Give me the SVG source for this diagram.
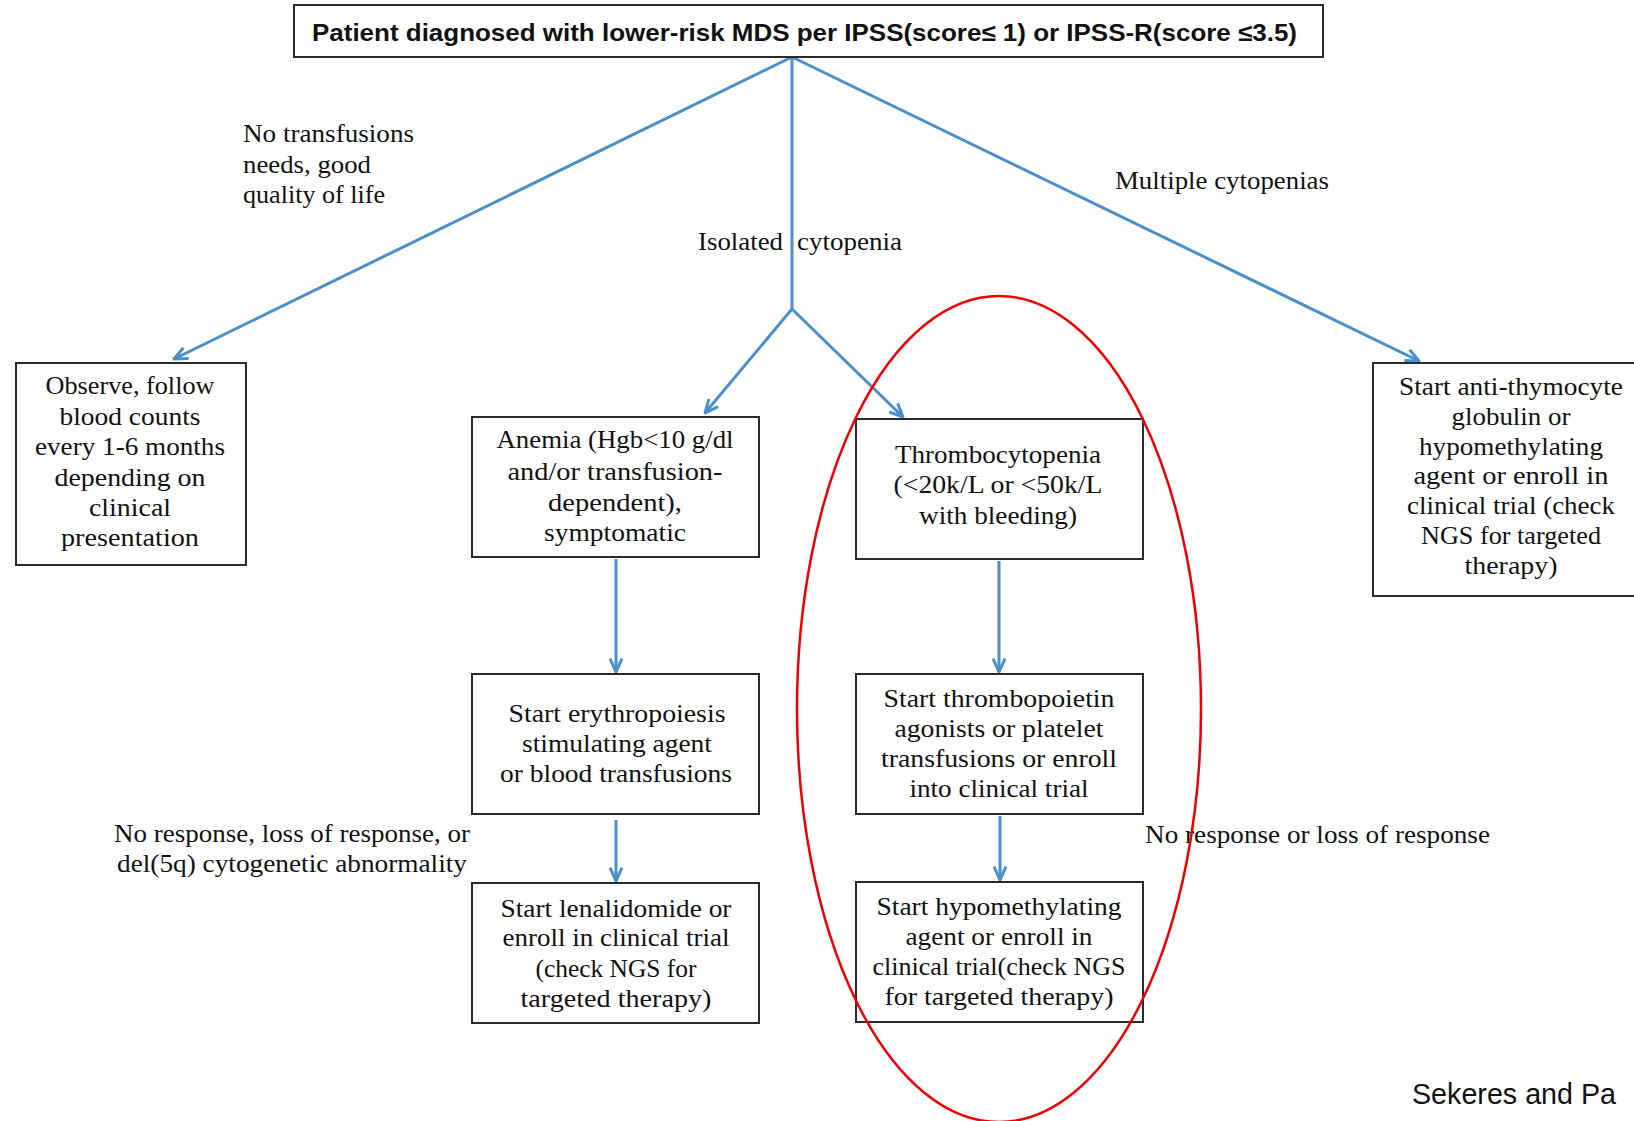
<svg xmlns="http://www.w3.org/2000/svg" width="1634" height="1121" viewBox="0 0 1634 1121">
<style>
.box{fill:#ffffff;stroke:#2a2a2a;stroke-width:2}
.t{font-family:"Liberation Serif",serif;font-size:26px;fill:#111111;text-anchor:middle}
.l{font-family:"Liberation Serif",serif;font-size:26px;fill:#111111;text-anchor:start}
.conn{stroke:#4a8fc8;stroke-width:3;fill:none}
</style>
<defs>
<marker id="arr" markerUnits="userSpaceOnUse" markerWidth="16" markerHeight="16" viewBox="0 0 12 12" refX="11" refY="6" orient="auto">
<path d="M1,1.5 L11,6 L1,10.5" fill="none" stroke="#4a8fc8" stroke-width="2.2"/>
</marker>
</defs>
<rect width="1634" height="1121" fill="#ffffff"/>

<g id="connectors">
<line class="conn" x1="792" y1="57" x2="174" y2="359" marker-end="url(#arr)"/>
<line class="conn" x1="792" y1="57" x2="792" y2="310"/>
<line class="conn" x1="792" y1="57" x2="1419" y2="361" marker-end="url(#arr)"/>
<line class="conn" x1="792" y1="309" x2="705" y2="413" marker-end="url(#arr)"/>
<line class="conn" x1="792" y1="309" x2="903" y2="417" marker-end="url(#arr)"/>
<line class="conn" x1="616" y1="559" x2="616" y2="672" marker-end="url(#arr)"/>
<line class="conn" x1="616" y1="820" x2="616" y2="881" marker-end="url(#arr)"/>
<line class="conn" x1="999" y1="561" x2="999" y2="672" marker-end="url(#arr)"/>
<line class="conn" x1="1000" y1="816" x2="1000" y2="880" marker-end="url(#arr)"/>
</g>

<g id="title">
<rect class="box" x="294" y="5" width="1029" height="52"/>
<text x="312" y="41" font-family="'Liberation Sans',Arial,sans-serif" font-weight="bold" font-size="24" fill="#111" textLength="985" lengthAdjust="spacingAndGlyphs">Patient diagnosed with lower-risk MDS per IPSS(score≤ 1) or IPSS-R(score ≤3.5)</text>
</g>

<g id="label-no-transfusions">
<text class="l" x="243" y="142" textLength="171" lengthAdjust="spacingAndGlyphs">No transfusions</text>
<text class="l" x="243" y="173" textLength="128" lengthAdjust="spacingAndGlyphs">needs, good</text>
<text class="l" x="243" y="203" textLength="142" lengthAdjust="spacingAndGlyphs">quality of life</text>
</g>
<g id="label-isolated">
<text class="l" x="698" y="250" textLength="85" lengthAdjust="spacingAndGlyphs">Isolated</text>
<text class="l" x="797" y="250" textLength="105" lengthAdjust="spacingAndGlyphs">cytopenia</text>
</g>
<g id="label-multiple">
<text class="l" x="1115" y="189" textLength="214" lengthAdjust="spacingAndGlyphs">Multiple cytopenias</text>
</g>

<g id="observe">
<rect class="box" x="16" y="363" width="230" height="202"/>
<text class="t" x="130" y="394" textLength="169" lengthAdjust="spacingAndGlyphs">Observe, follow</text>
<text class="t" x="130" y="425" textLength="141" lengthAdjust="spacingAndGlyphs">blood counts</text>
<text class="t" x="130" y="455" textLength="190" lengthAdjust="spacingAndGlyphs">every 1-6 months</text>
<text class="t" x="130" y="486" textLength="151" lengthAdjust="spacingAndGlyphs">depending on</text>
<text class="t" x="130" y="516" textLength="82" lengthAdjust="spacingAndGlyphs">clinical</text>
<text class="t" x="130" y="546" textLength="138" lengthAdjust="spacingAndGlyphs">presentation</text>
</g>

<g id="anemia">
<rect class="box" x="472" y="417" width="287" height="140"/>
<text class="t" x="615" y="448" textLength="237" lengthAdjust="spacingAndGlyphs">Anemia (Hgb&lt;10 g/dl</text>
<text class="t" x="615" y="480" textLength="215" lengthAdjust="spacingAndGlyphs">and/or transfusion-</text>
<text class="t" x="615" y="511" textLength="134" lengthAdjust="spacingAndGlyphs">dependent),</text>
<text class="t" x="615" y="541" textLength="142" lengthAdjust="spacingAndGlyphs">symptomatic</text>
</g>

<g id="thrombocytopenia">
<rect class="box" x="856" y="419" width="287" height="140"/>
<text class="t" x="998" y="463" textLength="206" lengthAdjust="spacingAndGlyphs">Thrombocytopenia</text>
<text class="t" x="998" y="493" textLength="209" lengthAdjust="spacingAndGlyphs">(&lt;20k/L or &lt;50k/L</text>
<text class="t" x="998" y="524" textLength="158" lengthAdjust="spacingAndGlyphs">with bleeding)</text>
</g>

<g id="atg">
<rect class="box" x="1373" y="363" width="262" height="233"/>
<text class="t" x="1511" y="395" textLength="224" lengthAdjust="spacingAndGlyphs">Start anti-thymocyte</text>
<text class="t" x="1511" y="425" textLength="119" lengthAdjust="spacingAndGlyphs">globulin or</text>
<text class="t" x="1511" y="455" textLength="184" lengthAdjust="spacingAndGlyphs">hypomethylating</text>
<text class="t" x="1511" y="484" textLength="195" lengthAdjust="spacingAndGlyphs">agent or enroll in</text>
<text class="t" x="1511" y="514" textLength="208" lengthAdjust="spacingAndGlyphs">clinical trial (check</text>
<text class="t" x="1511" y="544" textLength="180" lengthAdjust="spacingAndGlyphs">NGS for targeted</text>
<text class="t" x="1511" y="574" textLength="93" lengthAdjust="spacingAndGlyphs">therapy)</text>
</g>

<g id="esa">
<rect class="box" x="472" y="674" width="287" height="140"/>
<text class="t" x="617" y="722" textLength="217" lengthAdjust="spacingAndGlyphs">Start erythropoiesis</text>
<text class="t" x="617" y="752" textLength="190" lengthAdjust="spacingAndGlyphs">stimulating agent</text>
<text class="t" x="616" y="782" textLength="232" lengthAdjust="spacingAndGlyphs">or blood transfusions</text>
</g>

<g id="lenalidomide">
<rect class="box" x="472" y="883" width="287" height="140"/>
<text class="t" x="616" y="917" textLength="231" lengthAdjust="spacingAndGlyphs">Start lenalidomide or</text>
<text class="t" x="616" y="946" textLength="227" lengthAdjust="spacingAndGlyphs">enroll in clinical trial</text>
<text class="t" x="616" y="977" textLength="161" lengthAdjust="spacingAndGlyphs">(check NGS for</text>
<text class="t" x="616" y="1007" textLength="191" lengthAdjust="spacingAndGlyphs">targeted therapy)</text>
</g>

<g id="tpo">
<rect class="box" x="856" y="674" width="287" height="140"/>
<text class="t" x="999" y="707" textLength="231" lengthAdjust="spacingAndGlyphs">Start thrombopoietin</text>
<text class="t" x="999" y="737" textLength="209" lengthAdjust="spacingAndGlyphs">agonists or platelet</text>
<text class="t" x="999" y="767" textLength="236" lengthAdjust="spacingAndGlyphs">transfusions or enroll</text>
<text class="t" x="999" y="797" textLength="179" lengthAdjust="spacingAndGlyphs">into clinical trial</text>
</g>

<g id="hma">
<rect class="box" x="856" y="882" width="287" height="140"/>
<text class="t" x="999" y="915" textLength="245" lengthAdjust="spacingAndGlyphs">Start hypomethylating</text>
<text class="t" x="999" y="945" textLength="187" lengthAdjust="spacingAndGlyphs">agent or enroll in</text>
<text class="t" x="999" y="975" textLength="253" lengthAdjust="spacingAndGlyphs">clinical trial(check NGS</text>
<text class="t" x="999" y="1005" textLength="229" lengthAdjust="spacingAndGlyphs">for targeted therapy)</text>
</g>

<g id="label-no-response-left">
<text class="l" x="114" y="842" textLength="356" lengthAdjust="spacingAndGlyphs">No response, loss of response, or</text>
<text class="l" x="117" y="872" textLength="350" lengthAdjust="spacingAndGlyphs">del(5q) cytogenetic abnormality</text>
</g>
<g id="label-no-response-right">
<text class="l" x="1145" y="843" textLength="345" lengthAdjust="spacingAndGlyphs">No response or loss of response</text>
</g>

<g id="highlight">
<ellipse cx="999" cy="709" rx="202" ry="413" fill="none" stroke="#ee0000" stroke-width="2.5"/>
</g>

<g id="citation">
<text x="1412" y="1104" font-family="'Liberation Sans',Arial,sans-serif" font-size="30" fill="#111" textLength="204" lengthAdjust="spacingAndGlyphs">Sekeres and Pa</text>
</g>
</svg>
